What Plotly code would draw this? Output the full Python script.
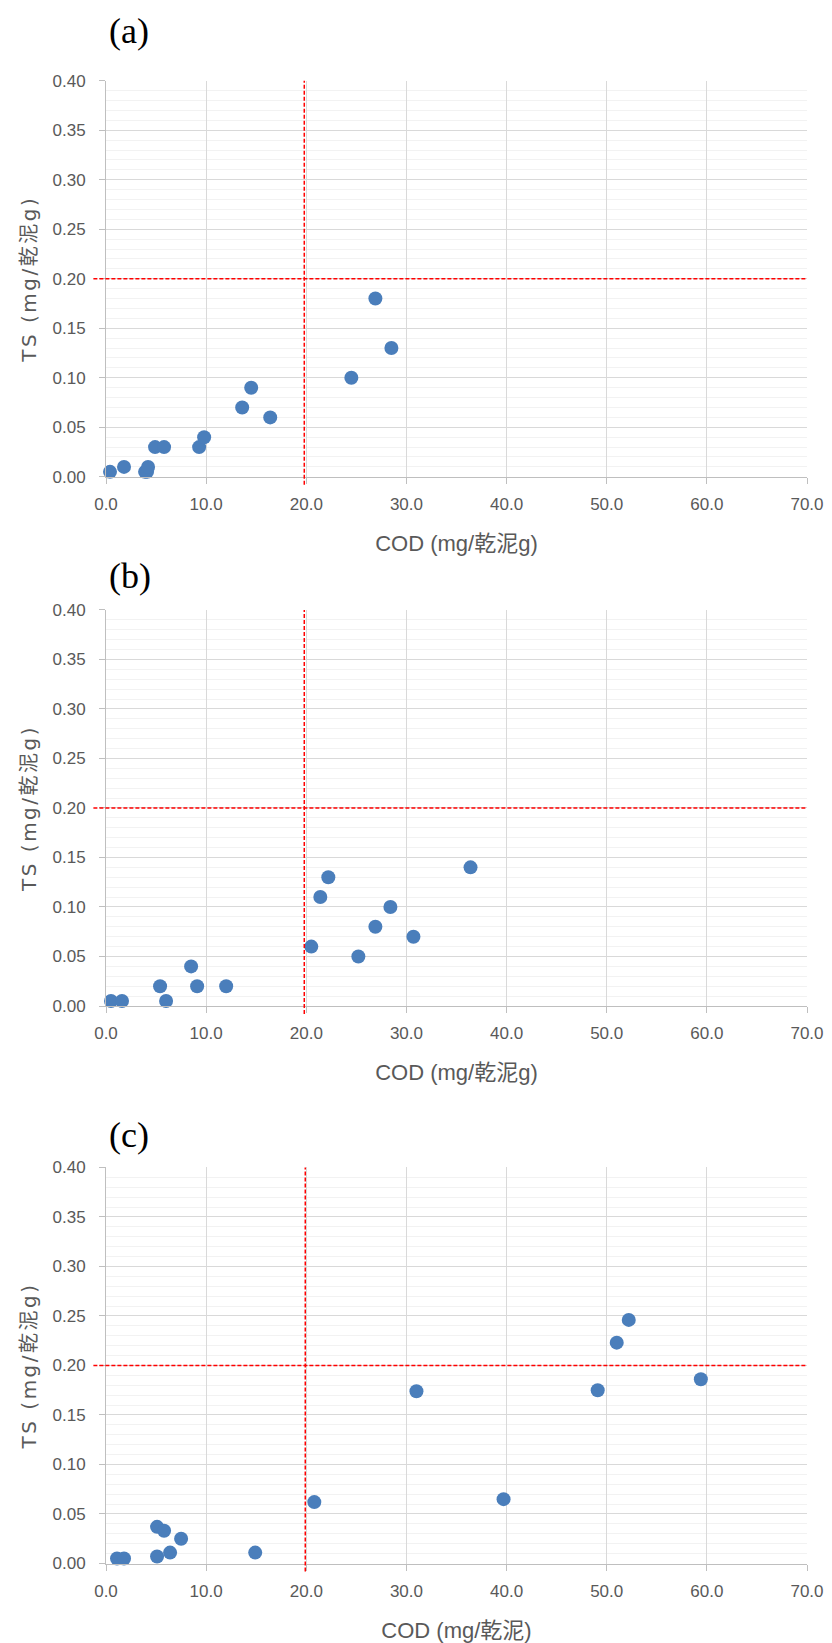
import plotly.graph_objects as go

# ---------------- data ----------------
panel_labels = ["(a)", "(b)", "(c)"]
x_titles = ["COD (mg/乾泥g)", "COD (mg/乾泥g)", "COD (mg/乾泥)"]
y_title = "TS (mg/乾泥g)"

cod_a = [0.4, 1.8, 3.9, 4.1, 4.2, 4.9, 5.8, 9.3, 9.8, 13.6, 14.5, 16.4, 24.5, 26.9, 28.5]
ts_a = [0.005, 0.010, 0.005, 0.005, 0.010, 0.030, 0.030, 0.030, 0.040, 0.070, 0.090, 0.060, 0.100, 0.180, 0.130]

cod_b = [0.5, 1.6, 5.4, 6.0, 8.5, 9.1, 12.0, 20.5, 21.4, 22.2, 25.2, 26.9, 28.4, 30.7, 36.4]
ts_b = [0.005, 0.005, 0.020, 0.005, 0.040, 0.020, 0.020, 0.060, 0.110, 0.130, 0.050, 0.080, 0.100, 0.070, 0.140]

cod_c = [1.1, 1.8, 5.1, 5.8, 5.1, 6.4, 7.5, 14.9, 20.8, 31.0, 39.7, 49.1, 51.0, 52.2, 59.4]
ts_c = [0.005, 0.005, 0.037, 0.033, 0.007, 0.011, 0.025, 0.011, 0.062, 0.174, 0.065, 0.175, 0.223, 0.246, 0.186]

threshold_cod = [19.8, 19.8, 19.9]
threshold_ts = [0.20, 0.20, 0.20]

x_ticks = [0, 10, 20, 30, 40, 50, 60, 70]
y_ticks = [0.00, 0.05, 0.10, 0.15, 0.20, 0.25, 0.30, 0.35, 0.40]
x_range = [0, 70]
y_range = [0, 0.40]

series = [(cod_a, ts_a), (cod_b, ts_b), (cod_c, ts_c)]

# ---------------- layout geometry (pixels, page coords) ----------------
W, H = 832, 1643
OFF = 8  # default page body margin shifts the figure by 8px
ML, MR, MT, MB = 106 - OFF, 25 + OFF, 80 - OFF, 79 + OFF
PW, PH = W - ML - MR, H - MT - MB
panel_px = [(80.7, 476.8), (609.9, 1006.0), (1167.4, 1563.5)]
label_px = [(129, 31), (130, 576), (129, 1135)]


def py(p):
    return (H - MB - (p - OFF)) / PH


def px(p):
    return ((p - OFF) - ML) / PW


TICK_FONT = dict(family="Liberation Sans, Arial, sans-serif", size=17, color="#595959")
TITLE_FONT = dict(family="Liberation Sans, Arial, 'Noto Sans CJK JP', sans-serif", size=22, color="#595959")
YTITLE_FONT = dict(family="DejaVu Sans, 'Noto Sans CJK JP', sans-serif", size=20, color="#595959")

fig = go.Figure()
layout = dict(
    width=W, height=H,
    margin=dict(l=ML, r=MR, t=MT, b=MB),
    paper_bgcolor="white", plot_bgcolor="white",
    showlegend=False,
    shapes=[], annotations=[],
)

for i, (xs, ys) in enumerate(series):
    n = "" if i == 0 else str(i + 1)
    xa, ya = "x" + n, "y" + n
    fig.add_trace(go.Scatter(
        x=xs, y=ys, mode="markers", xaxis=xa, yaxis=ya,
        marker=dict(size=14, color="#4A7EBB", line=dict(width=0)),
        cliponaxis=False, hoverinfo="x+y",
    ))
    top, bot = panel_px[i]
    layout["xaxis" + n] = dict(
        domain=[0, 1], anchor=ya, range=x_range,
        tickvals=x_ticks, tickformat=".1f",
        showgrid=True, gridcolor="#d9d9d9", gridwidth=1,
        zeroline=False, showline=True, linecolor="#bfbfbf", linewidth=1,
        ticks="outside", ticklen=6, tickcolor="#bfbfbf", tickwidth=1,
        tickfont=TICK_FONT, ticklabelstandoff=6,
        title=dict(text=x_titles[i], font=TITLE_FONT, standoff=22),
        automargin=False, fixedrange=True,
    )
    layout["yaxis" + n] = dict(
        domain=[py(bot), py(top)], anchor=xa, range=y_range,
        tickvals=y_ticks, tickformat=".2f",
        showgrid=True, gridcolor="#d9d9d9", gridwidth=1,
        minor=dict(dtick=0.01, showgrid=True, gridcolor="#f2f2f2", gridwidth=1, ticks=""),
        zeroline=False, showline=True, linecolor="#bfbfbf", linewidth=1,
        ticks="outside", ticklen=6, tickcolor="#bfbfbf", tickwidth=1,
        tickfont=TICK_FONT, ticklabelstandoff=10,
        title=dict(text='<span style="letter-spacing:2.5px">' + y_title + '</span>',
                   font=YTITLE_FONT, standoff=10),
        automargin=False, fixedrange=True,
    )
    # threshold lines
    layout["shapes"].append(dict(
        type="line", xref=xa + " domain", yref=ya,
        x0=-0.018, x1=1.0, y0=threshold_ts[i], y1=threshold_ts[i],
        line=dict(color="#FF0000", width=1.5, dash="4px,2px"), layer="above",
    ))
    layout["shapes"].append(dict(
        type="line", xref=xa, yref=ya + " domain",
        x0=threshold_cod[i], x1=threshold_cod[i], y0=-0.02, y1=1.0,
        line=dict(color="#FF0000", width=1.5, dash="4px,2px"), layer="above",
    ))
    lx, ly = label_px[i]
    layout["annotations"].append(dict(
        text=panel_labels[i], xref="paper", yref="paper",
        x=px(lx), y=py(ly), xanchor="center", yanchor="middle", showarrow=False,
        font=dict(family="Liberation Serif, 'Times New Roman', serif", size=36, color="#000000"),
    ))

fig.update_layout(**layout)
fig.write_html("out.html")
